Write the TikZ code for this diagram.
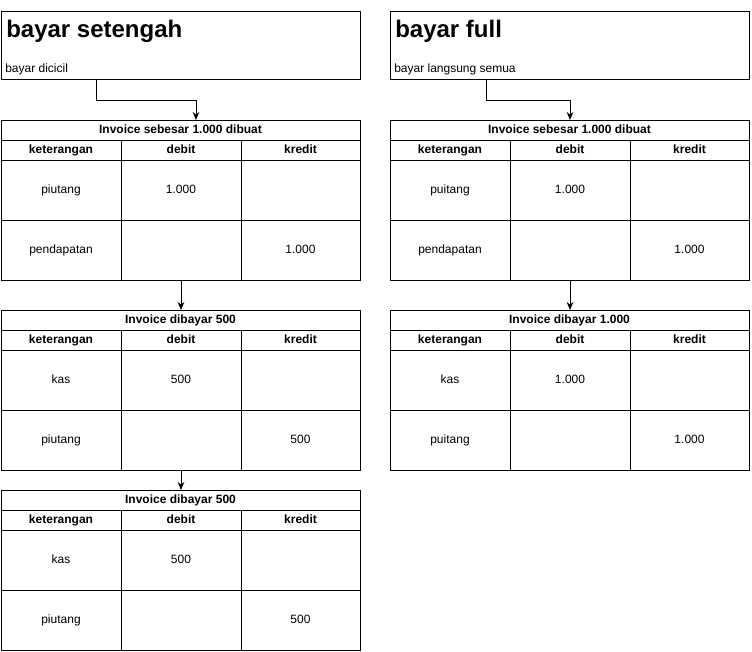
\documentclass[tikz,border=0pt]{standalone}
\usepackage{fontspec}
\setmainfont{Liberation Sans}
\usetikzlibrary{arrows.meta,calc}
\tikzset{
  base/.style={draw, line width=0.75pt, anchor=north west, inner sep=0pt, outer sep=0pt, text height=6.5pt, text depth=2pt, font=\fontsize{9}{11}\selectfont},
  cell/.style={base, minimum width=90pt, minimum height=45pt},
  hcell/.style={base, minimum width=90pt, minimum height=15pt, font=\fontsize{9}{11}\selectfont\bfseries},
  tcell/.style={base, minimum width=269.25pt, minimum height=15pt, font=\fontsize{9}{11}\selectfont\bfseries},
  hdrbox/.style={draw, line width=0.75pt, anchor=north west, inner sep=0pt, outer sep=0pt, minimum width=269.25pt, minimum height=51pt},
  htitle/.style={anchor=base west, inner sep=0pt, font=\fontsize{18}{21}\selectfont\bfseries},
  hsub/.style={anchor=base west, inner sep=0pt, font=\fontsize{9}{11}\selectfont},
  arr/.style={line width=0.75pt, -{Stealth[length=6pt,width=5pt]}}
}
\newcommand\jtable[8]{%
  \node[tcell] (#1t) at (#2,#3) {#4};
  \node[hcell] (#1ha) at (#2,{#3+20}) {keterangan};
  \node[hcell] (#1hb) at ({#2+120},{#3+20}) {debit};
  \node[hcell, minimum width=89.25pt] (#1hc) at ({#2+240},{#3+20}) {kredit};
  \node[cell] (#1aa) at (#2,{#3+40}) {#5};
  \node[cell] (#1ab) at ({#2+120},{#3+40}) {#6};
  \node[cell, minimum width=89.25pt] (#1ac) at ({#2+240},{#3+40}) {};
  \node[cell] (#1ba) at (#2,{#3+100}) {#7};
  \node[cell] (#1bb) at ({#2+120},{#3+100}) {};
  \node[cell, minimum width=89.25pt] (#1bc) at ({#2+240},{#3+100}) {#8};
}
\begin{document}
\begin{tikzpicture}[x=0.75pt,y=-0.75pt]
\useasboundingbox (0,0) rectangle (752,651);
% headers
\node[hdrbox] (hdrL) at (1,11) {};
\node[htitle] (hdrLt) at (6,37) {bayar setengah};
\node[hsub] (hdrLs) at (5,72) {bayar dicicil};
\node[hdrbox] (hdrR) at (390,11) {};
\node[htitle] (hdrRt) at (395,37) {bayar full};
\node[hsub] (hdrRs) at (394,72) {bayar langsung semua};
% tables
\jtable{L1}{1}{120}{Invoice sebesar 1.000 dibuat}{piutang}{1.000}{pendapatan}{1.000}
\jtable{L2}{1}{310}{Invoice dibayar 500}{kas}{500}{piutang}{500}
\jtable{L3}{1}{490}{Invoice dibayar 500}{kas}{500}{piutang}{500}
\jtable{R1}{390}{120}{Invoice sebesar 1.000 dibuat}{puitang}{1.000}{pendapatan}{1.000}
\jtable{R2}{390}{310}{Invoice dibayar 1.000}{kas}{1.000}{puitang}{1.000}
% connectors
\draw[arr] ($(hdrL.south west)+(95,0)$) |- ($(L1t.north west)+(195,-20)$) -- ($(L1t.north west)+(195,0)$);
\draw[arr] ($(hdrR.south west)+(96,0)$) |- ($(R1t.north west)+(180,-20)$) -- ($(R1t.north west)+(180,0)$);
\draw[arr] (L1bb.south) -- (L2t.north -| L1bb.south);
\draw[arr] (L2bb.south) -- (L3t.north -| L2bb.south);
\draw[arr] (R1bb.south) -- (R2t.north -| R1bb.south);
\end{tikzpicture}
\end{document}
